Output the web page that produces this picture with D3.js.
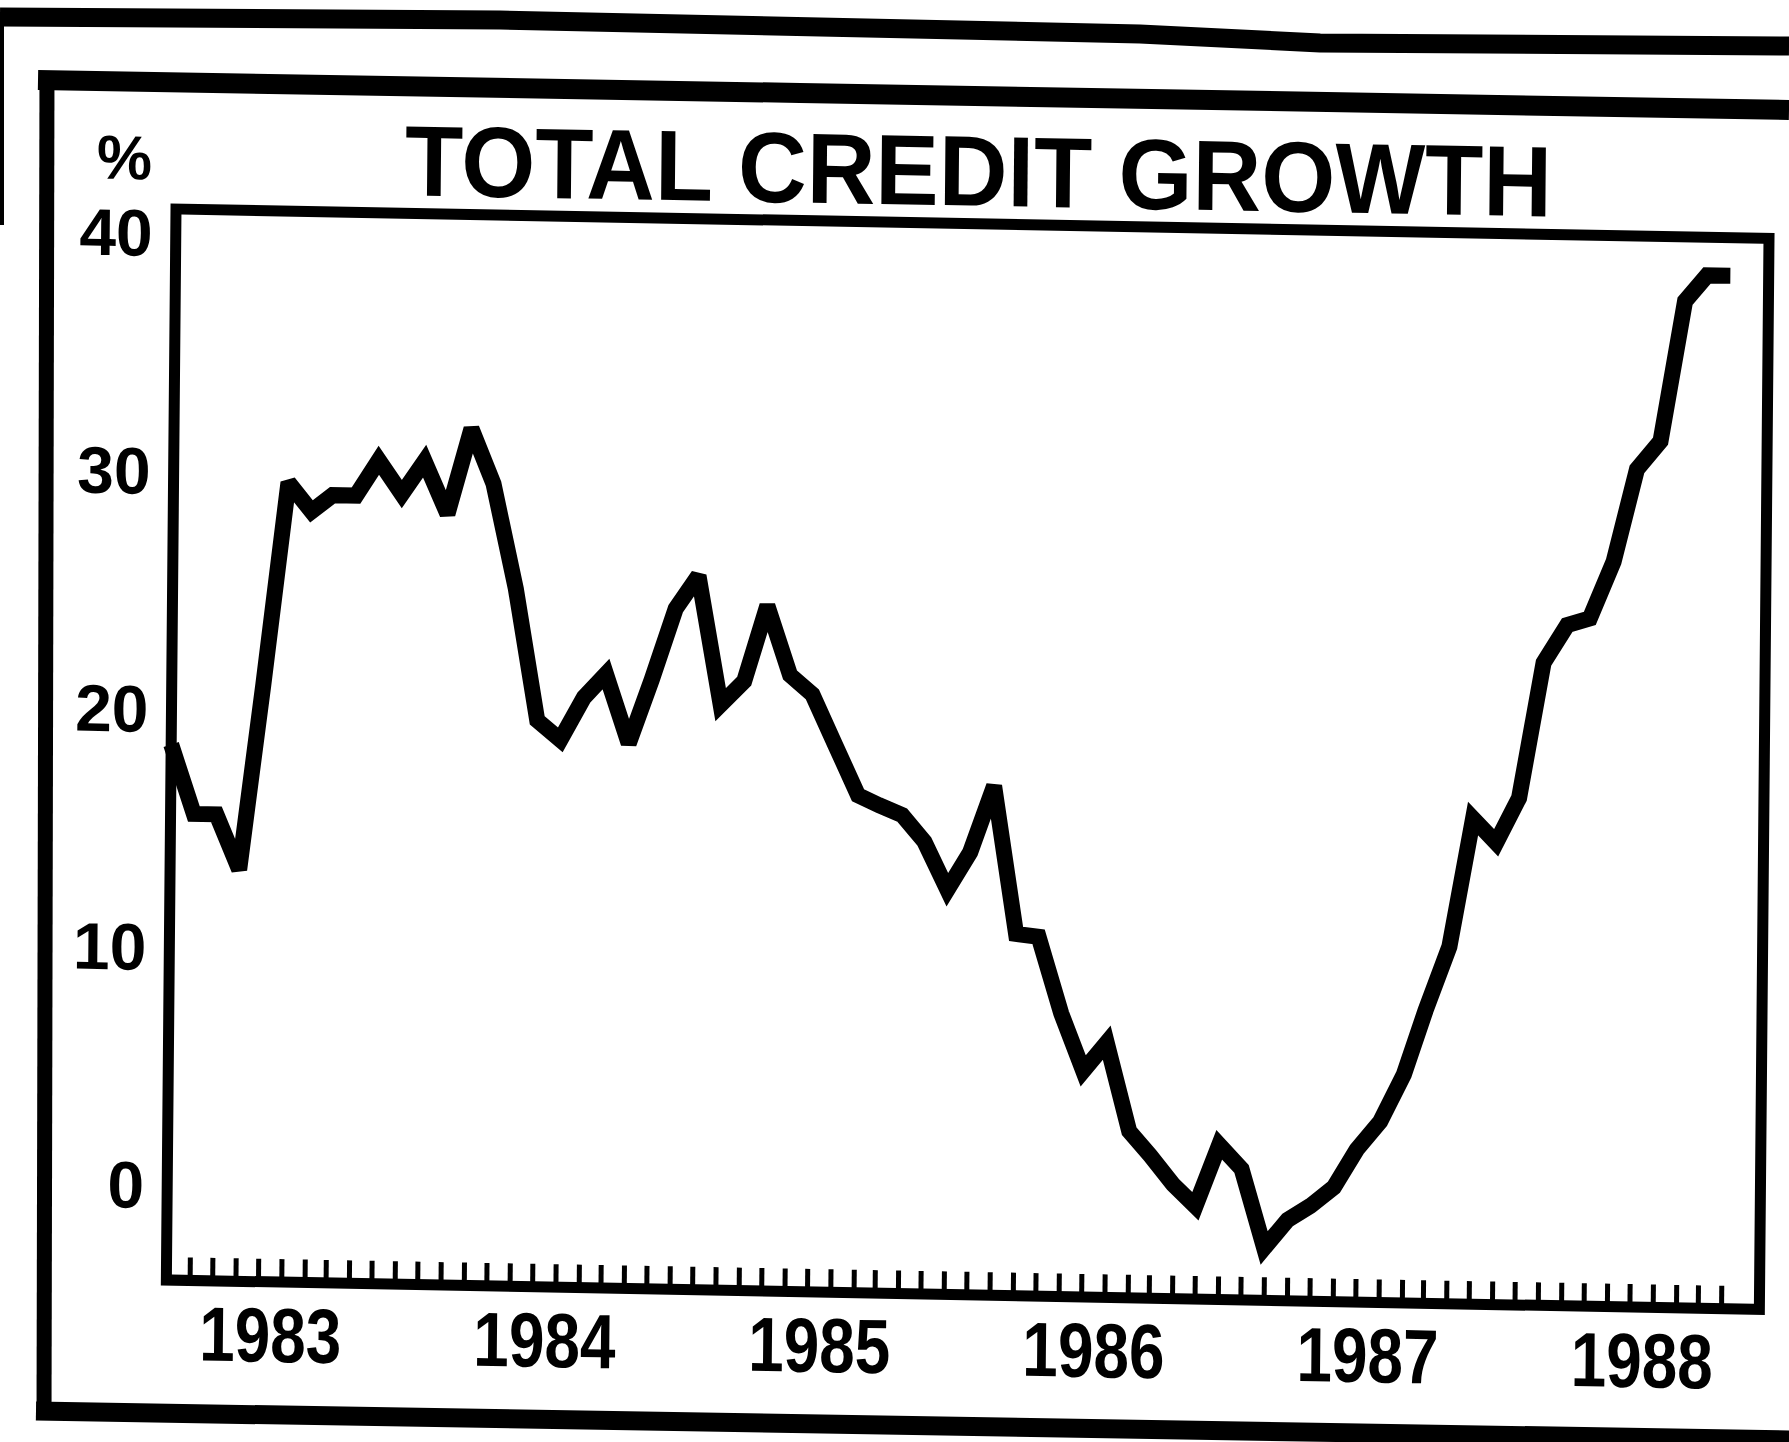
<!DOCTYPE html>
<html><head><meta charset="utf-8">
<script src="https://cdn.jsdelivr.net/npm/d3@7"></script>
<style>html,body{margin:0;padding:0;background:#fff;} svg{display:block;}</style>
</head><body>
<svg id="chart" width="1789" height="1442"></svg>
<script>
// ---- data ----
const chartTitle = "TOTAL CREDIT GROWTH";
const unitLabel = "%";
const firstMonth = "1982-08";           // first monthly observation
const xDomain = ["1982-08-15", "1988-06-05"];
const yDomain = [-4, 41];
const yTickValues = [0, 10, 20, 30, 40];
const yearLabels = ["1983", "1984", "1985", "1986", "1987", "1988"];
const growth = [
  18.5, 15.6, 15.6, 13.3, 21.1, 29.6, 28.4, 29.1, 29.1, 30.6,
  29.2, 30.6, 28.4, 32.0, 29.7, 25.3, 19.8, 19.0, 20.8, 21.8,
  18.9, 21.6, 24.6, 26.0, 20.6, 21.6, 24.8, 21.9, 21.1, 19.0,
  16.9, 16.5, 16.1, 15.0, 13.0, 14.6, 17.4, 11.2, 11.1, 7.9,
  5.5, 6.7, 3.0, 2.0, 0.8, -0.1, 2.5, 1.5, -1.8, -0.6,
  0.0, 0.8, 2.4, 3.6, 5.6, 8.3, 11.0, 16.4, 15.4, 17.3,
  23.0, 24.6, 24.9, 27.3, 31.2, 32.4, 38.3, 39.4, 39.4
];

// ---- layout ----
const svg = d3.select("#chart");
const L = 176, T = 209, R = 1769, B = 1280;
const font = "'Liberation Sans', Arial, Helvetica, sans-serif";

// paper / frame decorations (scanned page look)
const deco = svg.append("g").attr("fill", "none").attr("stroke", "#000");
deco.append("path").attr("stroke-width", 19)
  .attr("d", d3.line()([[0,17],[500,20],[820,27],[1140,34],[1320,43],[1789,46]]));
deco.append("path").attr("stroke-width", 20)
  .attr("d", d3.line()([[38,80],[800,93],[1789,110]]));
deco.append("path").attr("stroke-width", 15)
  .attr("d", d3.line()([[47,71],[44,1420]]));
deco.append("path").attr("stroke-width", 19)
  .attr("d", d3.line()([[36,1411],[1789,1440]]));
deco.append("path").attr("stroke-width", 4)
  .attr("d", d3.line()([[2,20],[2,225]]));

// the chart itself, with the slight tilt of the scanned page
const g = svg.append("g")
  .attr("transform", `translate(${L},${T}) matrix(1,0.0185,-0.009,1,0,0) translate(${-L},${-T})`);

const parseMonth = d3.timeParse("%Y-%m");
const parseDay = d3.timeParse("%Y-%m-%d");
const start = parseMonth(firstMonth);
const data = growth.map((v, i) => ({
  date: d3.timeDay.offset(d3.timeMonth.offset(start, i), 14),
  value: v
}));

const x = d3.scaleTime().domain(xDomain.map(parseDay)).range([L, R]);
const y = d3.scaleLinear().domain(yDomain).range([B, T]);

// title and unit
g.append("text")
  .attr("x", 978).attr("y", 191)
  .attr("text-anchor", "middle")
  .attr("font-family", font).attr("font-weight", "bold")
  .attr("font-size", 100)
  .attr("textLength", 1147).attr("lengthAdjust", "spacingAndGlyphs")
  .text(chartTitle);
g.append("text")
  .attr("x", 124).attr("y", 180)
  .attr("text-anchor", "middle")
  .attr("font-family", font).attr("font-weight", "bold")
  .attr("font-size", 62)
  .text(unitLabel);

// plot frame
g.append("rect")
  .attr("x", L).attr("y", T).attr("width", R - L).attr("height", B - T)
  .attr("fill", "none").attr("stroke", "#000").attr("stroke-width", 11);

// monthly ticks along the bottom, pointing up into the plot
const xAxis = g.append("g")
  .attr("transform", `translate(0,${B})`)
  .call(d3.axisTop(x).tickValues(data.map(d => d.date)).tickSize(23).tickFormat(""));
xAxis.select(".domain").remove();
xAxis.selectAll(".tick line").attr("stroke", "#000").attr("stroke-width", 5);

// year labels
g.append("g").selectAll("text")
  .data(yearLabels)
  .join("text")
  .attr("transform", d => `translate(${x(new Date(+d, 0, 1))},${B + 80}) scale(0.83,1)`)
  .attr("text-anchor", "middle")
  .attr("font-family", font).attr("font-weight", "bold")
  .attr("font-size", 77)
  .text(d => d);

// y labels
const yAxis = g.append("g")
  .attr("transform", `translate(${L},0)`)
  .call(d3.axisLeft(y).tickValues(yTickValues).tickSize(0).tickPadding(23));
yAxis.select(".domain").remove();
yAxis.selectAll(".tick text")
  .attr("font-family", font).attr("font-weight", "bold")
  .attr("font-size", 66).attr("fill", "#000")
  .attr("dy", "0.35em");

// the series
g.append("path")
  .datum(data)
  .attr("fill", "none").attr("stroke", "#000")
  .attr("stroke-width", 16)
  .attr("stroke-linejoin", "miter").attr("stroke-miterlimit", 2.5)
  .attr("d", d3.line().x(d => x(d.date)).y(d => y(d.value)));
</script>
</body></html>
